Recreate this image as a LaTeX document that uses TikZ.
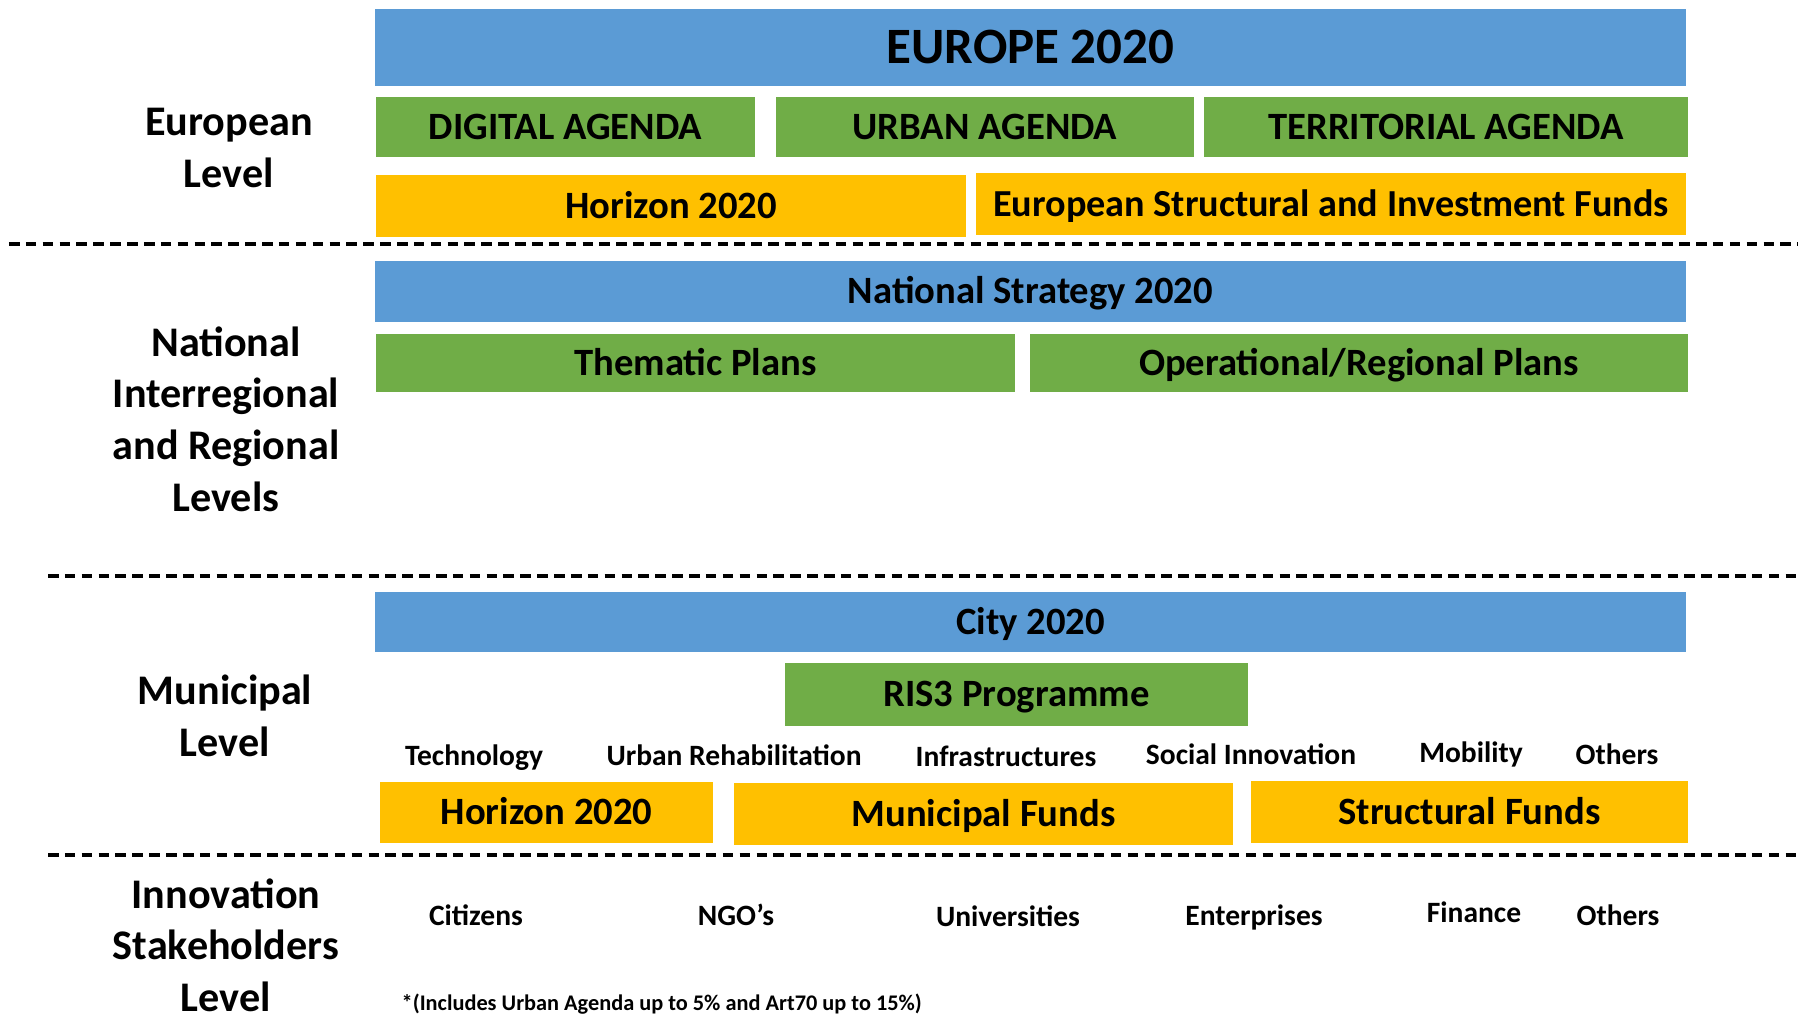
\documentclass[tikz,border=0pt]{standalone}
\usepackage{fontspec}
\setmainfont{Carlito}
\usetikzlibrary{positioning}
\definecolor{EuBlue}{HTML}{5B9BD5}
\definecolor{AgendaGreen}{HTML}{70AD47}
\definecolor{FundGold}{HTML}{FFC000}

\tikzset{
  bar/.style={inner sep=0pt, text height=7.1pt, text depth=0pt, font=\bfseries\fontsize{11}{13}\selectfont, text=black},
  levelname/.style={align=center, font=\bfseries\fontsize{12}{14.7}\selectfont},
  tag/.style={inner sep=0pt, text height=5.5pt, text depth=0pt, font=\bfseries\fontsize{8.4}{10}\selectfont},
  separator/.style={line width=1pt, dash pattern=on 3pt off 1.8pt}
}

\begin{document}
\begin{tikzpicture}[x=1cm, y=-1cm]
  \useasboundingbox (0,0) rectangle (17.98,10.16);

  % level names
  \node[levelname] (eulevel) at (2.29,1.48) {European\\Level};
  \node[levelname] (natlevel) at (2.26,4.19) {National\\Interregional\\and Regional\\Levels};
  \node[levelname] (munlevel) at (2.25,7.16) {Municipal\\Level};
  \node[levelname, inner ysep=1pt] (stklevel) at (2.26,9.45) {Innovation\\Stakeholders\\Level};

  % European level
  \node[bar, fill=EuBlue, minimum width=13.11cm, minimum height=0.77cm, text height=9.3pt,
        font=\bfseries\fontsize{14.5}{17}\selectfont] (europe) at (10.305,0.475) {EUROPE 2020};
  \node[bar, fill=AgendaGreen, minimum width=3.79cm, minimum height=0.60cm] (digital) at (5.655,1.27) {DIGITAL AGENDA};
  \node[bar, fill=AgendaGreen, minimum width=4.18cm, minimum height=0.60cm] (urban) at (9.85,1.27) {URBAN AGENDA};
  \node[bar, fill=AgendaGreen, minimum width=4.84cm, minimum height=0.60cm] (territorial) at (14.46,1.27) {TERRITORIAL AGENDA};
  \node[bar, fill=FundGold, minimum width=5.90cm, minimum height=0.62cm] (horizoneu) at (6.71,2.06) {Horizon 2020};
  \node[bar, fill=FundGold, minimum width=7.10cm, minimum height=0.62cm,
        font=\bfseries\fontsize{10.87}{13}\selectfont] (esif) at (13.31,2.04) {European Structural and Investment Funds};

  \draw[separator] (0.09,2.44) -- (17.98,2.44);

  % national level
  \node[bar, fill=EuBlue, minimum width=13.11cm, minimum height=0.61cm] (national) at (10.305,2.915) {National Strategy 2020};
  \node[bar, fill=AgendaGreen, minimum width=6.39cm, minimum height=0.58cm] (thematic) at (6.955,3.63) {Thematic Plans};
  \node[bar, fill=AgendaGreen, minimum width=6.58cm, minimum height=0.58cm] (operational) at (13.59,3.63) {Operational/Regional Plans};

  \draw[separator] (0.48,5.76) -- (17.98,5.76);

  % municipal level
  \node[bar, fill=EuBlue, minimum width=13.11cm, minimum height=0.60cm] (city) at (10.305,6.22) {City 2020};
  \node[bar, fill=AgendaGreen, minimum width=4.63cm, minimum height=0.63cm] (ris) at (10.165,6.945) {RIS3 Programme};
  \node[tag] (technology) at (4.74,7.56) {Technology};
  \node[tag] (rehab) at (7.34,7.56) {Urban Rehabilitation};
  \node[tag] (infra) at (10.06,7.57) {Infrastructures};
  \node[tag] (social) at (12.51,7.55) {Social Innovation};
  \node[tag] (mobility) at (14.71,7.53) {Mobility};
  \node[tag] (othersmun) at (16.17,7.55) {Others};
  \node[bar, fill=FundGold, minimum width=3.33cm, minimum height=0.61cm] (horizonmun) at (5.465,8.125) {Horizon 2020};
  \node[bar, fill=FundGold, minimum width=4.99cm, minimum height=0.62cm] (munfunds) at (9.835,8.14) {Municipal Funds};
  \node[bar, fill=FundGold, minimum width=4.37cm, minimum height=0.62cm] (structfunds) at (14.695,8.12) {Structural Funds};

  \draw[separator] (0.48,8.55) -- (17.98,8.55);

  % stakeholders
  \node[tag] (citizens) at (4.76,9.16) {Citizens};
  \node[tag] (ngos) at (7.36,9.16) {NGO’s};
  \node[tag] (univ) at (10.08,9.17) {Universities};
  \node[tag] (enterprises) at (12.54,9.16) {Enterprises};
  \node[tag] (finance) at (14.74,9.13) {Finance};
  \node[tag] (othersstk) at (16.18,9.16) {Others};
  \node[tag, anchor=west, font=\bfseries\fontsize{6.35}{7.5}\selectfont] (footnote) at (4.01,10.01) {*(Includes Urban Agenda up to 5\% and Art70 up to 15\%)};
\end{tikzpicture}
\end{document}
